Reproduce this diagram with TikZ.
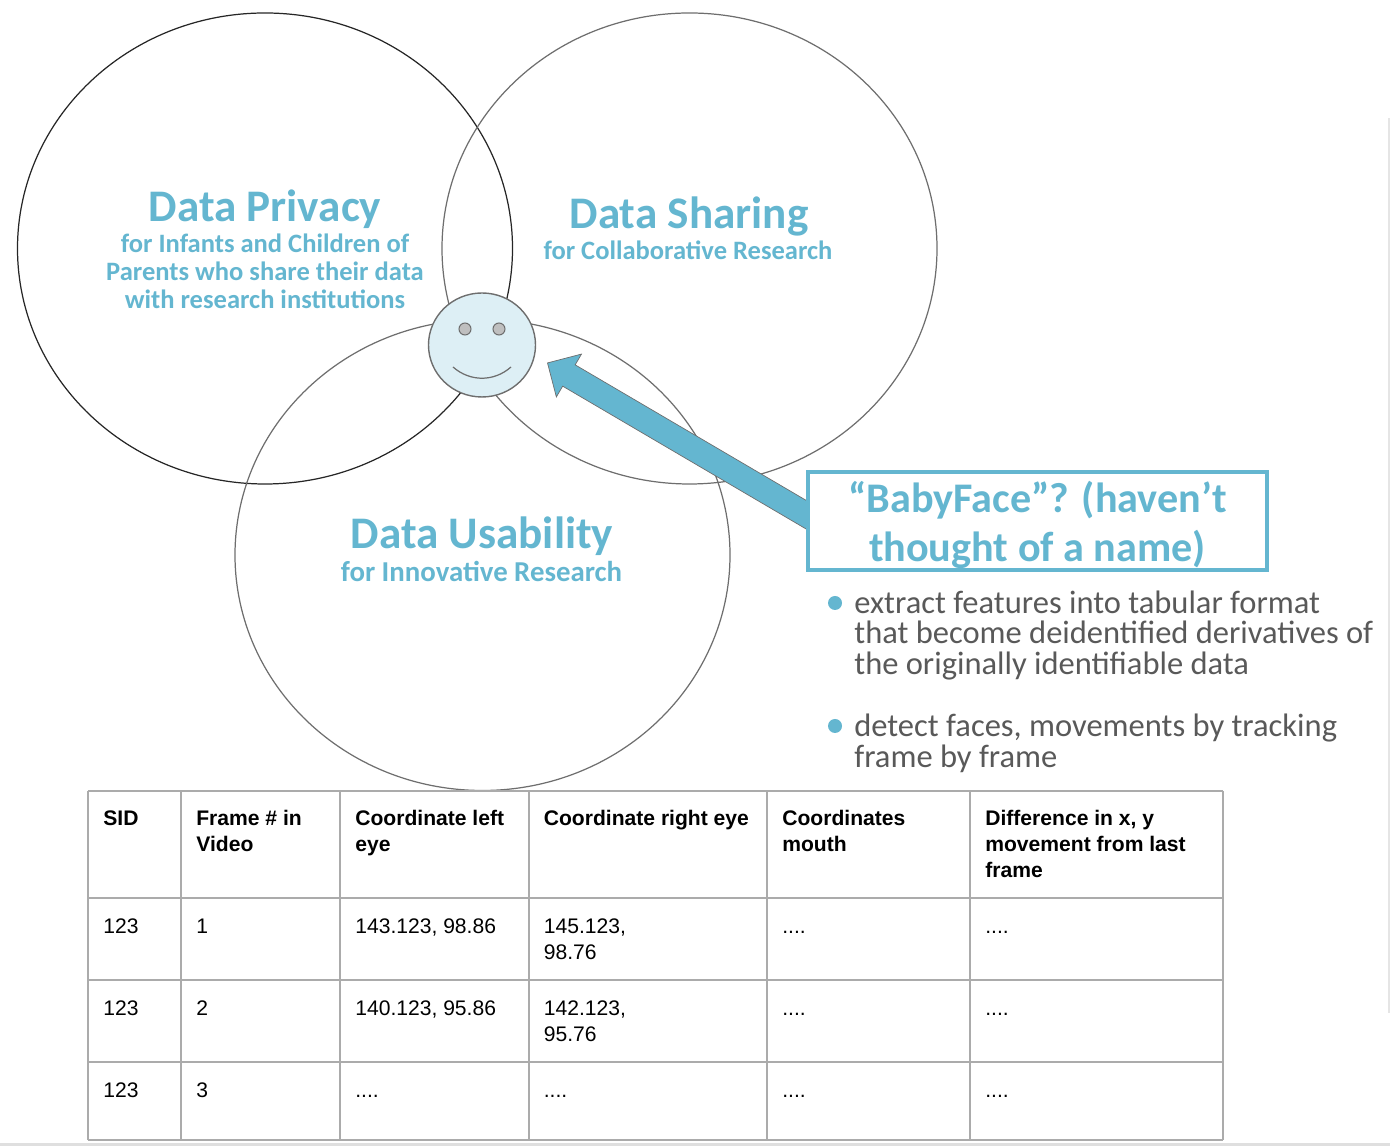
\documentclass[tikz,border=0pt]{standalone}
\usepackage{fontspec}
\setmainfont{Carlito}
\newfontfamily\tablefont{Liberation Sans}
\usepackage{xcolor}
\usetikzlibrary{shapes.arrows,shapes.geometric}
\definecolor{babyblue}{HTML}{64B6D0}
\definecolor{babytext}{HTML}{595959}
\definecolor{babyline}{HTML}{6E6E6E}
\definecolor{tableline}{HTML}{ABABAB}
\newcommand{\celldots}{....}
\tikzset{
  venn/.style={ellipse,draw=babyline,line width=0.7pt,minimum width=9.9cm,minimum height=9.42cm,inner sep=0pt},
  venntitle/.style={text=babyblue,font=\fontsize{25.7}{28}\selectfont\bfseries},
  vennsub/.style={text=babyblue,align=center,font=\fontsize{15.1}{15.9}\selectfont\bfseries},
  bulletdot/.style={circle,fill=babyblue,minimum size=0.28cm,inner sep=0pt},
  bullettext/.style={anchor=west,inner sep=0pt,align=left,text=babytext,font=\fontsize{18.5}{17.4}\selectfont},
  tablecell/.style={anchor=base west,inner sep=0pt,align=left,font=\tablefont\fontsize{12}{14.8}\selectfont},
  tablehead/.style={tablecell,font=\tablefont\bfseries\fontsize{12}{14.8}\selectfont}
}
\begin{document}
\begin{tikzpicture}
    \useasboundingbox (0,0) rectangle (27.8,22.92);

    % Page edges.
    \fill[gray!25] (0,0) rectangle (27.8,0.07);
    \fill[gray!20] (27.76,2.66) rectangle (27.8,20.56);

    % Three overlapping areas.
    \node[venn,draw=black!85] (privacy) at (5.30,17.95) {};
    \node[venn] (sharing) at (13.79,17.95) {};
    \node[venn] (usability) at (9.65,11.82) {};
    \node[venntitle] (privacytitle) at (5.30,18.74) {Data Privacy};
    \node[vennsub] (privacysub) at (5.30,17.49)
      {for Infants and Children of\\Parents who share their data\\with research institutions};
    \node[venntitle] (sharingtitle) at (13.78,18.60) {Data Sharing};
    \node[vennsub] (sharingsub) at (13.76,17.92) {for Collaborative Research};
    \node[venntitle] (usabilitytitle) at (9.64,12.20) {Data Usability};
    \node[vennsub,font=\fontsize{16.4}{16.4}\selectfont\bfseries] (usabilitysub) at (9.63,11.50) {for Innovative Research};

    % Block arrow, its tail goes under the name box.
    \node[single arrow,rotate=149.6,fill=babyblue,draw=babyline,line width=0.4pt,
      minimum height=6.2cm,minimum width=0.98cm,inner sep=0.24cm,
      single arrow head extend=0.25cm] (pointer) at (13.73,14.03) {};
    \node[draw=babyblue,fill=white,line width=0.08cm,minimum width=9.18cm,minimum height=1.96cm,
      inner sep=0pt] (namebox) at (20.75,12.5) {};
    \node[align=center,text=babyblue,font=\fontsize{24}{27.9}\selectfont\bfseries] (nametext)
      at (20.75,12.42) {“BabyFace”? (haven’t\\thought of a name)};

    % Face on top of the crossing.
    \node[ellipse,draw=babyline,fill=babyblue!22,line width=0.8pt,minimum width=2.14cm,minimum height=2.08cm,inner sep=0pt] (face) at (9.64,16.02) {};
    \foreach \ex/\ename in {9.30/lefteye,9.98/righteye} {
      \node[circle,draw=babyline,fill=gray!50,line width=0.6pt,minimum size=0.24cm,inner sep=0pt] (\ename) at (\ex,16.34) {};
    }
    \draw[babyline,line width=0.7pt] (9.06,15.58) .. controls (9.4,15.28) and (9.88,15.28) .. (10.22,15.58);

    % Bullets beside the table.
    \node[bulletdot] (featuredot) at (16.70,10.86) {};
    \node[bullettext] (featuretext) at (17.08,10.21)
      {extract features into tabular format\\that become deidentified derivatives of\\the originally identifiable data};
    \node[bulletdot] (detectdot) at (16.70,8.40) {};
    \node[bullettext] (detecttext) at (17.08,8.05)
      {detect faces, movements by tracking\\frame by frame};

    % Table of extracted features, a node's base is its last line.
    \foreach \cx in {1.76,3.62,6.80,10.58,15.34,19.40,24.46} {
      \draw[tableline,line width=0.9pt] (\cx,0.12) -- (\cx,7.10);
    }
    \foreach \cy in {0.12,1.68,3.32,4.96,7.10} {
      \draw[tableline,line width=0.9pt] (1.76,\cy) -- (24.46,\cy);
    }
    \foreach \cx/\basey/\cname/\ctext in {
      2.06/6.415/headsid/SID,
      3.92/5.895/headframe/{Frame \# in\\Video},
      7.10/5.895/headleft/{Coordinate left\\eye},
      10.87/6.415/headright/Coordinate right eye,
      15.64/5.895/headmouth/{Coordinates\\mouth},
      19.70/5.375/headdiff/{Difference in x, y\\movement from last\\frame}} {
      \node[tablehead] (\cname) at (\cx,\basey) {\ctext};
    }
    \foreach \cy/\righty/\rowname/\framenum/\leftval/\rightval in {
      4.255/3.735/rowa/1/{143.123, 98.86}/{145.123,\\98.76},
      2.615/2.095/rowb/2/{140.123, 95.86}/{142.123,\\95.76},
      0.975/0.975/rowc/3/\celldots/\celldots} {
      \node[tablecell] (\rowname sid) at (2.06,\cy) {123};
      \node[tablecell] (\rowname frame) at (3.92,\cy) {\framenum};
      \node[tablecell] (\rowname left) at (7.10,\cy) {\leftval};
      \node[tablecell] (\rowname right) at (10.87,\righty) {\rightval};
      \node[tablecell] (\rowname mouth) at (15.64,\cy) {\celldots};
      \node[tablecell] (\rowname diff) at (19.70,\cy) {\celldots};
    }
\end{tikzpicture}
\end{document}
